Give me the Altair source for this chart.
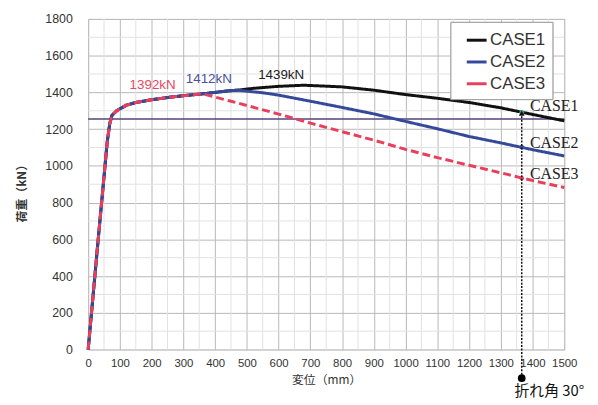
import altair as alt
import pandas as pd

# ---- data ----
cases = ["CASE1", "CASE2", "CASE3"]
case_colors = ["#111111", "#34499a", "#e8405c"]

common_x = [0, 30, 60, 68, 75, 90, 120, 150, 200, 250, 300, 360]
common_y = [0, 570, 1130, 1230, 1275, 1300, 1330, 1345, 1360, 1372, 1382, 1392]
case12_x = [400, 440, 470]
case12_y = [1400, 1408, 1412]
case1_x = [520, 600, 680, 800, 900, 1000, 1100, 1200, 1300, 1400, 1500]
case1_y = [1422, 1433, 1439, 1430, 1412, 1388, 1368, 1345, 1316, 1280, 1245]
case2_x = [550, 600, 700, 800, 900, 1000, 1100, 1200, 1300, 1400, 1500]
case2_y = [1398, 1385, 1352, 1318, 1283, 1242, 1202, 1160, 1125, 1088, 1054]
case3_x = [450, 600, 700, 800, 900, 1000, 1100, 1200, 1300, 1400, 1500]
case3_y = [1352, 1282, 1233, 1186, 1140, 1090, 1045, 1003, 962, 920, 882]

peak_text = ["1392kN", "1412kN", "1439kN"]
peak_x = [203, 380, 608]
peak_y = [1440, 1472, 1495]
peak_color = ["#e84a63", "#4a4f9e", "#222222"]

right_text = ["CASE1", "CASE2", "CASE3"]
right_x = [1392, 1392, 1392]
right_y = [1326, 1126, 954]

limit_load = [1255]

arrow_x = [1366]
arrow_bottom = [-156]
arrow_top = [1286]
arrow_label = ["折れ角 30°"]
arrow_label_x = [1453]
arrow_label_y = [-226]

marker_y = [1292, 1101, 932]
marker_color = ["#3aa58a", "#34499a", "#e8405c"]

x_ticks = list(range(0, 1501, 100))
y_ticks = list(range(0, 1801, 200))
x_minor = list(range(50, 1500, 100))
y_minor = list(range(100, 1800, 200))

# ---- build tables ----
rows = []
for c in cases:
    xs_ = list(common_x)
    ys_ = list(common_y)
    if c == "CASE1":
        xs_ += case12_x + case1_x
        ys_ += case12_y + case1_y
    elif c == "CASE2":
        xs_ += case12_x + case2_x
        ys_ += case12_y + case2_y
    else:
        xs_ += case3_x
        ys_ += case3_y
    for i, (a, b) in enumerate(zip(xs_, ys_)):
        rows.append({"x": a, "y": b, "case": c, "i": i})
lines_df = pd.DataFrame(rows)

xs = alt.Scale(domain=[0, 1500], nice=False)
ys = alt.Scale(domain=[0, 1800], nice=False)

FONT = "Liberation Sans"
JP = "Noto Sans CJK JP"

x_axis = alt.Axis(values=x_ticks, format="d", title="変位（mm）", labelFontSize=11.5,
                  labelColor="#333333", labelPadding=8, ticks=False, domain=False,
                  gridColor="#b8b8b8", labelOverlap=False, labelFlush=False, labelBound=False,
                  titleFont=JP, titleFontSize=12,
                  titleFontWeight="normal", titleColor="#333333", titlePadding=6, labelFont=FONT)
y_axis = alt.Axis(values=y_ticks, format="d", title="荷重（kN）", labelFontSize=12.5,
                  labelColor="#333333", labelPadding=16, ticks=False, domain=False,
                  gridColor="#b8b8b8", titleFont=JP, titleFontSize=12, titleFontWeight="bold",
                  titleColor="#333333", titleX=-67, titleY=173, titleAngle=270,
                  titleAlign="center", titleBaseline="middle", labelFont=FONT)


def X(f):
    return alt.X(f, scale=xs, axis=x_axis)


def Y(f):
    return alt.Y(f, scale=ys, axis=y_axis)


minor_x = alt.Chart(pd.DataFrame({"x": x_minor})).mark_rule(color="#e2e2e2", strokeWidth=1).encode(
    x=X("x:Q"))
minor_y = alt.Chart(pd.DataFrame({"y": y_minor})).mark_rule(color="#e2e2e2", strokeWidth=1).encode(
    y=Y("y:Q"))

hline = alt.Chart(pd.DataFrame({"y": limit_load})).mark_rule(color="#54457e", strokeWidth=1.6).encode(
    y=Y("y:Q"))

leg = dict(title=None, orient="none", legendX=366, legendY=3, padding=7, symbolOffset=8,
           strokeColor="#a0a0a0", fillColor="white", labelFontSize=17, labelFont=FONT,
           labelColor="#333333", symbolType="stroke", symbolSize=400, symbolStrokeWidth=3,
           rowPadding=2, labelOffset=2)

lines = alt.Chart(lines_df).mark_line(strokeWidth=3).encode(
    x=X("x:Q"),
    y=Y("y:Q"),
    color=alt.Color("case:N", scale=alt.Scale(domain=cases, range=case_colors),
                    legend=alt.Legend(**leg)),
    strokeDash=alt.StrokeDash("case:N", scale=alt.Scale(domain=cases, range=[[1, 0], [1, 0], [8, 4]]),
                              legend=alt.Legend(**leg)),
    detail="case:N",
    order="i:Q",
)

peaks = alt.Chart(pd.DataFrame({"x": peak_x, "y": peak_y, "t": peak_text, "c": peak_color})).mark_text(
    font=FONT, fontSize=13.5).encode(
    x=X("x:Q"), y=Y("y:Q"), text="t:N",
    color=alt.Color("c:N", scale=None))

right_labels = alt.Chart(pd.DataFrame({"x": right_x, "y": right_y, "t": right_text})).mark_text(
    font="Liberation Serif", fontSize=16, align="left", color="#222222").encode(
    x=X("x:Q"), y=Y("y:Q"), text="t:N")

arrow_df = pd.DataFrame({"x": arrow_x, "y": arrow_bottom, "y2": arrow_top})
arrow_line = alt.Chart(arrow_df).mark_rule(color="#111111", strokeWidth=1.5, strokeDash=[2, 1.5]).encode(
    x=X("x:Q"), y=Y("y:Q"), y2="y2:Q")
arrow_head = alt.Chart(arrow_df).mark_point(shape="triangle-up", filled=True, size=35, color="#111111",
                                            opacity=1).encode(
    x=X("x:Q"), y=Y("y2:Q"))
arrow_dot = alt.Chart(arrow_df).mark_point(shape="circle", filled=True, size=60, color="#000000",
                                           opacity=1).encode(
    x=X("x:Q"), y=Y("y:Q"))

markers = alt.Chart(pd.DataFrame({"x": arrow_x * 3, "y": marker_y, "c": marker_color})).mark_point(
    shape="circle", filled=True, size=22, opacity=1).encode(
    x=X("x:Q"), y=Y("y:Q"), color=alt.Color("c:N", scale=None))

arrow_text = alt.Chart(pd.DataFrame({"x": arrow_label_x, "y": arrow_label_y, "t": arrow_label})).mark_text(
    font=JP, fontSize=15, color="#111111").encode(
    x=X("x:Q"), y=Y("y:Q"), text="t:N")

chart = alt.layer(minor_x, minor_y, hline, lines, markers, arrow_line, arrow_head, arrow_dot,
                  peaks, right_labels, arrow_text).resolve_scale(color="independent").properties(
    width=481, height=334,
    autosize=alt.AutoSizeParams(type="none"),
    padding={"left": 81, "top": 9, "right": 26, "bottom": 52},
    background="white",
).configure_view(stroke="#999999", strokeWidth=1).configure(font=FONT).configure_axis(
    labelOverlap=False)

chart.save("out.html", embed_options={"renderer": "svg", "actions": False})
